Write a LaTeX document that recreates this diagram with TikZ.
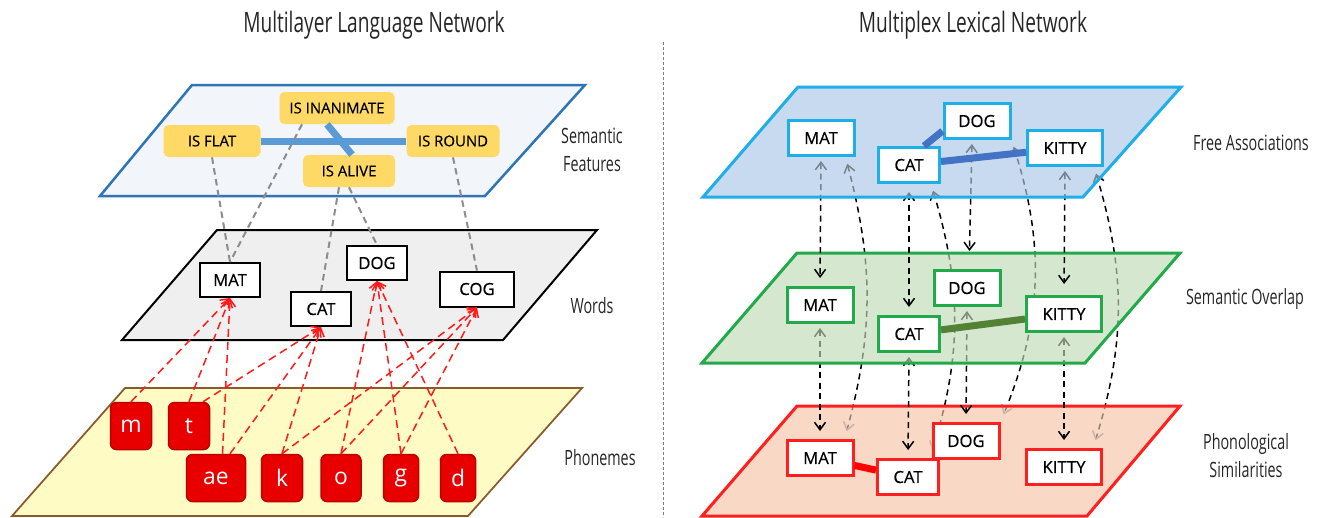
\documentclass[tikz,border=0pt]{standalone}
\usepackage{fontspec}
\setmainfont{Open Sans}
\newfontfamily\condfont{Open Sans}[FakeStretch=0.68]
\newfontfamily\boxfont{Open Sans}[FakeBold=0.5]
\usetikzlibrary{arrows.meta}

\definecolor{featyellow}{HTML}{FFD966}
\definecolor{featline}{HTML}{5B9BD5}
\definecolor{semblue}{HTML}{2E75B6}
\definecolor{semfill}{HTML}{F2F5FA}
\definecolor{wordfill}{HTML}{EFEFEF}
\definecolor{phonfill}{HTML}{FFFBC4}
\definecolor{phonbrown}{HTML}{8B5A2B}
\definecolor{phonred}{HTML}{E80000}
\definecolor{phonedge}{HTML}{C00000}
\definecolor{phonline}{HTML}{FF1A1A}
\definecolor{featdash}{HTML}{8C8C8C}
\definecolor{layerA}{HTML}{1EAEE8}
\definecolor{fillA}{HTML}{C7DAEF}
\definecolor{edgeA}{HTML}{4472C4}
\definecolor{layerB}{HTML}{22AA4A}
\definecolor{fillB}{HTML}{D5E8CF}
\definecolor{edgeB}{HTML}{548235}
\definecolor{layerC}{HTML}{FF1F1F}
\definecolor{fillC}{HTML}{F9D8C5}
\definecolor{edgeC}{HTML}{FF0000}

\pgfdeclarelayer{planes}
\pgfdeclarelayer{arcs}
\pgfdeclarelayer{coverC}
\pgfdeclarelayer{linksBC}
\pgfdeclarelayer{coverB}
\pgfdeclarelayer{linksAB}
\pgfdeclarelayer{coverA}
\pgfsetlayers{planes,arcs,coverC,linksBC,coverB,linksAB,coverA,main}

\begin{document}
\begin{tikzpicture}[x=0.2mm,y=-0.2mm,line width=0.3mm,
	feat/.style={fill=featyellow, rounded corners=1mm, minimum height=6.4mm, inner sep=1pt, font=\boxfont\fontsize{8.5}{10}\selectfont},
	word/.style={draw=black, line width=0.4mm, fill=white, minimum width=12mm, minimum height=6.8mm, font=\boxfont\fontsize{9.5}{11}\selectfont},
	phon/.style={fill=phonred, draw=phonedge, line width=0.3mm, rounded corners=1.2mm, minimum width=8.2mm, minimum height=9.4mm, inner sep=0pt, text=white, font=\fontsize{13}{15}\selectfont},
	lex/.style={fill=white, line width=0.6mm, minimum width=13.2mm, minimum height=7mm, inner sep=1pt, font=\boxfont\fontsize{9.5}{11}\selectfont},
	lexA/.style={lex, draw=layerA},
	lexB/.style={lex, draw=layerB},
	lexC/.style={lex, draw=layerC},
	featlink/.style={featline, line width=1.4mm},
	featdashed/.style={featdash, line width=0.4mm, dash pattern=on 1.3mm off 0.9mm},
	phonlink/.style={phonline, line width=0.3mm, dash pattern=on 1.6mm off 1mm, -{Straight Barb[length=1.5mm,width=2.4mm]}},
	crosslink/.style={black, line width=0.3mm, dash pattern=on 1.2mm off 0.9mm, {Straight Barb[length=1.5mm,width=2.2mm]}-{Straight Barb[length=1.5mm,width=2.2mm]}, shorten <=0.8mm, shorten >=1.6mm},
	crossarc/.style={black, line width=0.3mm, dash pattern=on 1.2mm off 0.9mm, {Straight Barb[length=1.5mm,width=2.2mm]}-{Straight Barb[length=1.5mm,width=2.2mm,color=gray]}, shorten <=1.4mm, shorten >=1.6mm},
	layerlabel/.style={font=\condfont\fontsize{12}{16}\selectfont, align=center, text=black!85},
	title/.style={font=\condfont\fontsize{16}{19}\selectfont, text=black!85},
]
\useasboundingbox (0,0) rectangle (1320,517);

% titles and divider
\node[title] (title-left) at (374,25) {Multilayer Language Network};
\node[title] (title-right) at (973,25) {Multiplex Lexical Network};
\draw[gray, line width=0.2mm, dash pattern=on 0.5mm off 0.5mm] (663,42) -- (663,517);

% planes
\begin{pgfonlayer}{planes}
\draw[semblue, fill=semfill, line width=0.5mm] (192,85) -- (585,85) -- (485,196) -- (100,196) -- cycle;
\draw[black, fill=wordfill, line width=0.4mm] (217,230) -- (597,230) -- (503,340) -- (122,340) -- cycle;
\draw[phonbrown, fill=phonfill, line width=0.35mm] (125,388) -- (582,388) -- (468,516) -- (12,516) -- cycle;
\fill[fillA] (798,87) -- (1181,87) -- (1083,197) -- (703,197) -- cycle;
\fill[fillB] (797,253) -- (1180,253) -- (1085,363) -- (702,363) -- cycle;
\fill[fillC] (797,406) -- (1180,406) -- (1087,516) -- (702,516) -- cycle;
\end{pgfonlayer}

\begin{pgfonlayer}{coverC}
\draw[layerC, fill=fillC, fill opacity=0.6, line width=0.6mm] (797,406) -- (1180,406) -- (1087,516) -- (702,516) -- cycle;
\end{pgfonlayer}
\begin{pgfonlayer}{coverB}
\draw[layerB, fill=fillB, fill opacity=0.6, line width=0.6mm] (797,253) -- (1180,253) -- (1085,363) -- (702,363) -- cycle;
\end{pgfonlayer}
\begin{pgfonlayer}{coverA}
\draw[layerA, fill=fillA, fill opacity=0.6, line width=0.6mm] (798,87) -- (1181,87) -- (1083,197) -- (703,197) -- cycle;
\end{pgfonlayer}

% semantic features
\node[feat, minimum width=19.4mm] (flat) at (212,141) {IS FLAT};
\node[feat, minimum width=23mm] (inanimate) at (337,108) {IS INANIMATE};
\node[feat, minimum width=18.6mm] (round) at (453,141) {IS ROUND};
\node[feat, minimum width=18.4mm] (alive) at (349,171) {IS ALIVE};
\draw[featlink] (flat) -- (round);
\draw[featlink] ([xshift=-2mm]inanimate.south) -- ([xshift=0.6mm]alive.north);

% words
\node[word] (mat) at (230,280) {MAT};
\node[word] (cat) at (321,309) {CAT};
\node[word] (dog) at (377,263) {DOG};
\node[word, minimum width=14.8mm, minimum height=7mm] (cog) at (477,289) {COG};

\draw[featdashed] (flat.south) -- (mat.north);
\draw[featdashed] ([xshift=-7mm]inanimate.south) -- (mat.north);
\draw[featdashed] ([xshift=-2mm]alive.south) -- (cat.north);
\draw[featdashed] (alive.south) -- (dog.north);
\draw[featdashed] (round.south) -- (cog.north);

% phonemes
\node[phon] (m) at (131,426) {m};
\node[phon] (t) at (189,426) {t};
\node[phon, minimum width=11.8mm] (ae) at (216,478) {ae};
\node[phon] (k) at (282,478) {k};
\node[phon, minimum width=8mm] (o) at (341,478) {o};
\node[phon, minimum width=7mm] (g) at (401,478) {g};
\node[phon, minimum width=7mm] (d) at (458,478) {d};

\draw[phonlink] (m.north) -- (mat.south);
\draw[phonlink] (t.north) -- (mat.south);
\draw[phonlink] (ae.75) -- (mat.south);
\draw[phonlink] (t.60) -- (cat.south);
\draw[phonlink] (ae.60) -- (cat.south);
\draw[phonlink] (k.north) -- (cat.south);
\draw[phonlink] (o.north) -- (dog.south);
\draw[phonlink] (g.north) -- (dog.south);
\draw[phonlink] (d.north) -- (dog.south);
\draw[phonlink] (k.north) -- (cog.south);
\draw[phonlink] (o.north) -- (cog.south);
\draw[phonlink] (g.north) -- (cog.south);

\node[layerlabel] (lbl-sem) at (592,150) {Semantic\\Features};
\node[layerlabel] (lbl-words) at (592,306) {Words};
\node[layerlabel] (lbl-phon) at (600,458) {Phonemes};

% free associations
\node[lexA] (A-mat) at (821,138) {MAT};
\node[lexA] (A-dog) at (977,121) {DOG};
\node[lexA, minimum width=12.2mm] (A-cat) at (909,165) {CAT};
\node[lexA, minimum width=15mm] (A-kitty) at (1065,148) {KITTY};
\draw[edgeA, line width=1.4mm] ([xshift=3mm]A-cat.north) -- ([yshift=-2mm]A-dog.west);
\draw[edgeA, line width=1.4mm] (A-cat) -- (A-kitty);

% semantic overlap
\node[lexB] (B-mat) at (820,305) {MAT};
\node[lexB] (B-dog) at (967,288) {DOG};
\node[lexB, minimum width=12.2mm] (B-cat) at (909,334) {CAT};
\node[lexB, minimum width=15mm] (B-kitty) at (1064,314) {KITTY};
\draw[edgeB, line width=1.4mm] (B-cat) -- (B-kitty);

% phonological similarities
\node[lexC] (C-mat) at (820,458) {MAT};
\node[lexC] (C-dog) at (966,441) {DOG};
\node[lexC, minimum width=12.2mm] (C-cat) at (908,477) {CAT};
\node[lexC, minimum width=15mm] (C-kitty) at (1064,467) {KITTY};
\draw[edgeC, line width=1.4mm] (C-mat) -- (C-cat);

% links between layers
\begin{pgfonlayer}{linksAB}
\draw[crosslink] (A-mat.south) -- (B-mat.north);
\draw[crosslink, shorten <=1.6mm] (A-cat.south) -- (B-cat.north);
\draw[crosslink, shorten >=3.6mm] ([xshift=-1mm]A-dog.south) -- ([xshift=0.4mm]B-dog.north);
\draw[crosslink, shorten >=2.2mm] (A-kitty.south) -- (B-kitty.north);
\end{pgfonlayer}
\begin{pgfonlayer}{linksBC}
\draw[crosslink] (B-mat.south) -- (C-mat.north);
\draw[crosslink] (B-cat.south) -- (C-cat.north);
\draw[crosslink] (B-dog.south) -- (C-dog.north);
\draw[crosslink] (B-kitty.south) -- (C-kitty.north);
\end{pgfonlayer}
\begin{pgfonlayer}{arcs}
\draw[crossarc] ([xshift=-2mm]A-mat.south east) to[bend left=15] ([xshift=-2mm]C-mat.north east);
\draw[crossarc] ([xshift=-2mm]A-cat.south east) to[bend left=17] ([xshift=-2mm]C-cat.north east);
\draw[crossarc] (A-dog.south east) to[bend left=20] (C-dog.north east);
\draw[crossarc] ([xshift=-2mm]A-kitty.south east) to[bend left=17] ([xshift=-2mm]C-kitty.north east);
\end{pgfonlayer}

\node[layerlabel] (lbl-free) at (1251,143) {Free Associations};
\node[layerlabel] (lbl-overlap) at (1245,299) {Semantic Overlap};
\node[layerlabel] (lbl-phonsim) at (1246,456) {Phonological\\Similarities};

\end{tikzpicture}
\end{document}
